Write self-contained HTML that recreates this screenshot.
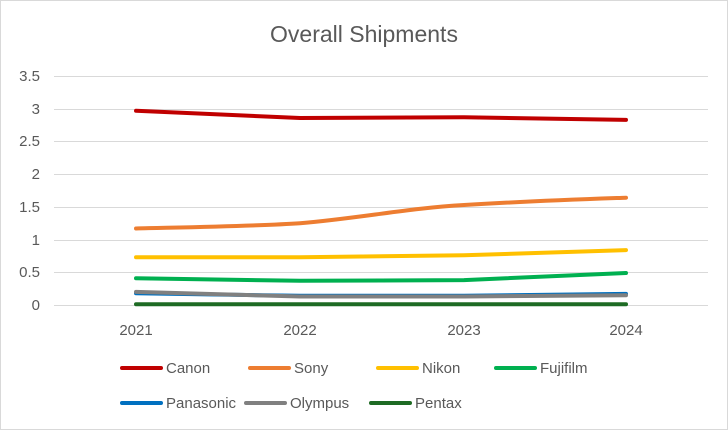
<!DOCTYPE html>
<html><head><style>
body{margin:0;background:#fff;}
svg{display:block;font-family:"Liberation Sans",sans-serif;}
</style></head><body>
<svg width="728" height="430" viewBox="0 0 728 430">
<rect x="0.5" y="0.5" width="727" height="429" fill="#fff" stroke="#d9d9d9"/>
<text x="364" y="42" text-anchor="middle" font-size="23" fill="#595959">Overall Shipments</text>
<g stroke="#d9d9d9" stroke-width="1">
<line x1="54" x2="708" y1="76.5" y2="76.5"/><line x1="54" x2="708" y1="109.5" y2="109.5"/>
<line x1="54" x2="708" y1="141.5" y2="141.5"/><line x1="54" x2="708" y1="174.5" y2="174.5"/>
<line x1="54" x2="708" y1="207.5" y2="207.5"/><line x1="54" x2="708" y1="240.5" y2="240.5"/>
<line x1="54" x2="708" y1="272.5" y2="272.5"/><line x1="54" x2="708" y1="305.5" y2="305.5"/>
</g>
<g font-size="15" fill="#595959" text-anchor="end">
<text x="40" y="81">3.5</text><text x="40" y="114">3</text><text x="40" y="146">2.5</text>
<text x="40" y="179">2</text><text x="40" y="212">1.5</text><text x="40" y="245">1</text>
<text x="40" y="277">0.5</text><text x="40" y="310">0</text>
</g>
<g font-size="15" fill="#595959" text-anchor="middle">
<text x="136" y="335">2021</text><text x="300" y="335">2022</text><text x="464" y="335">2023</text><text x="626" y="335">2024</text>
</g>
<g fill="none" stroke-width="4" stroke-linecap="round" stroke-linejoin="round">
<polyline stroke="#00b050" points="136,278.2 300,280.8 464,280.1 626,273"/>
<polyline stroke="#0070c0" points="136,293.2 300,295.8 464,295.8 626,293.9"/>
<polyline stroke="#808080" points="136,291.9 300,296.5 464,296.5 626,295.2"/>
<polyline stroke="#1e6b24" points="136,304.3 626,304.3"/>
<polyline stroke="#ffc000" points="136,257.3 300,257.3 464,255.3 626,250.1"/>
<path stroke="#ed7d31" d="M136,228.5 C200,227 260,226 300,223.3 C360,218 410,208 464,205 C530,201 590,199 626,197.7"/>
<polyline stroke="#c00000" points="136,110.8 300,118 464,117.3 626,119.9"/>
</g>
<g stroke-width="4" stroke-linecap="round">
<line x1="122" x2="161" y1="368" y2="368" stroke="#c00000"/>
<line x1="250" x2="289" y1="368" y2="368" stroke="#ed7d31"/>
<line x1="378" x2="417" y1="368" y2="368" stroke="#ffc000"/>
<line x1="496" x2="535" y1="368" y2="368" stroke="#00b050"/>
<line x1="122" x2="161" y1="403" y2="403" stroke="#0070c0"/>
<line x1="246" x2="285" y1="403" y2="403" stroke="#808080"/>
<line x1="371" x2="410" y1="403" y2="403" stroke="#1e6b24"/>
</g>
<g font-size="15" fill="#595959">
<text x="166" y="373">Canon</text><text x="294" y="373">Sony</text>
<text x="422" y="373">Nikon</text><text x="540" y="373">Fujifilm</text>
<text x="166" y="408">Panasonic</text><text x="290" y="408">Olympus</text><text x="415" y="408">Pentax</text>
</g>
</svg>
</body></html>
